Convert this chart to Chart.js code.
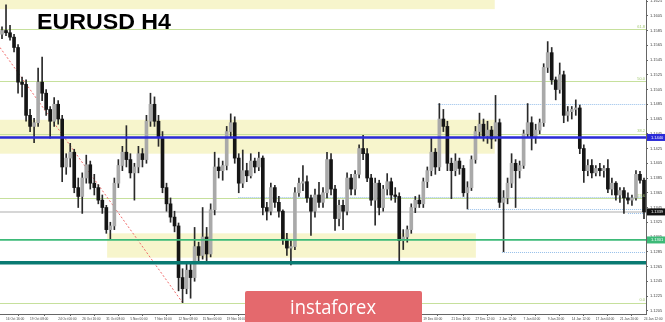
<!DOCTYPE html>
<html><head><meta charset="utf-8">
<script src="https://cdn.jsdelivr.net/npm/chart.js@4.4.1/dist/chart.umd.min.js"></script>
<style>html,body{margin:0;padding:0;background:#fff;}#wrap{width:665px;height:322px;position:relative;}</style>
</head><body><div id="wrap"><canvas id="c" width="665" height="322"></canvas></div>
<script>
// ---- EURUSD H4 candles (prices) ----
const opens = [
1.1580,1.1585,1.1582,1.1576,1.1562,1.1515,1.1512,1.1470,1.1455,1.1460,
1.1515,1.1500,1.1478,1.1462,1.1485,1.1465,1.1400,1.1412,1.1420,1.1372,
1.1360,1.1385,1.1403,1.1378,1.1372,1.1355,1.1345,1.1315,1.1320,1.1378,
1.1402,1.1420,1.1410,1.1392,1.1400,1.1418,1.1410,1.1462,1.1485,1.1462,
1.1440,1.1372,1.1350,1.1332,1.1320,1.1250,1.1235,1.1260,1.1250,1.1292,
1.1280,1.1305,1.1282,1.1342,1.1400,1.1395,1.1402,1.1448,1.1460,1.1412,
1.1378,1.1395,1.1388,1.1408,1.1400,1.1412,1.1345,1.1340,1.1372,1.1352,
1.1340,1.1302,1.1290,1.1292,1.1365,1.1378,1.1380,1.1358,1.1340,1.1362,
1.1352,1.1365,1.1410,1.1370,1.1330,1.1348,1.1340,1.1385,1.1370,1.1390,
1.1425,1.1418,1.1385,1.1355,1.1378,1.1345,1.1370,1.1380,1.1362,1.1360,
1.1300,1.1305,1.1315,1.1345,1.1355,1.1350,1.1380,1.1395,1.1420,1.1400,
1.1465,1.1455,1.1405,1.1395,1.1408,1.1398,1.1365,1.1372,1.1410,1.1448,
1.1458,1.1442,1.1450,1.1438,1.1460,1.1352,1.1358,1.1378,1.1405,1.1395,
1.1402,1.1445,1.1460,1.1440,1.1450,1.1460,1.1535,1.1555,1.1518,1.1505,
1.1525,1.1470,1.1475,1.1478,1.1480,1.1425,1.1395,1.1402,1.1392,1.1398,
1.1395,1.1398,1.1370,1.1378,1.1362,1.1368,1.1358,1.1355,1.1358,1.1390,1.1382];
const highs = [
1.1590,1.1620,1.1592,1.1580,1.1566,1.1522,1.1518,1.1478,1.1466,1.1534,
1.1549,1.1505,1.1482,1.1494,1.1490,1.1470,1.1418,1.1432,1.1424,1.1385,
1.1392,1.1416,1.1408,1.1390,1.1376,1.1362,1.1348,1.1325,1.1385,1.1410,
1.1428,1.1456,1.1418,1.1405,1.1428,1.1425,1.1470,1.1500,1.1495,1.1470,
1.1448,1.1378,1.1358,1.1340,1.1324,1.1262,1.1268,1.1268,1.1318,1.1298,
1.1345,1.1318,1.1350,1.1420,1.1412,1.1408,1.1455,1.1472,1.1468,1.1418,
1.1423,1.1405,1.1418,1.1412,1.1420,1.1415,1.1352,1.1378,1.1375,1.1360,
1.1342,1.1310,1.1300,1.1372,1.1385,1.1402,1.1388,1.1362,1.1370,1.1379,
1.1372,1.1420,1.1418,1.1375,1.1355,1.1355,1.1392,1.1390,1.1395,1.1430,
1.1443,1.1425,1.1390,1.1385,1.1382,1.1375,1.1391,1.1385,1.1372,1.1365,
1.1315,1.1320,1.1350,1.1360,1.1362,1.1385,1.1400,1.1440,1.1425,1.1486,
1.1478,1.1462,1.1412,1.1418,1.1412,1.1402,1.1380,1.1415,1.1455,1.1473,
1.1465,1.1462,1.1455,1.1497,1.1465,1.1368,1.1385,1.1418,1.1410,1.1408,
1.1450,1.1486,1.1468,1.1458,1.1465,1.1540,1.1570,1.1562,1.1522,1.1541,
1.1530,1.1482,1.1482,1.1491,1.1484,1.1430,1.1410,1.1410,1.1402,1.1405,
1.1402,1.1410,1.1385,1.1380,1.1372,1.1372,1.1365,1.1362,1.1395,1.1394,1.1385];
const lows = [
1.1574,1.1578,1.1572,1.1556,1.1500,1.1495,1.1462,1.1448,1.1433,1.1455,
1.1490,1.1470,1.1439,1.1455,1.1458,1.1380,1.1390,1.1400,1.1365,1.1345,
1.1337,1.1378,1.1370,1.1362,1.1350,1.1337,1.1310,1.1302,1.1315,1.1372,
1.1395,1.1400,1.1385,1.1355,1.1392,1.1400,1.1405,1.1455,1.1455,1.1428,
1.1365,1.1340,1.1325,1.1312,1.1232,1.1216,1.1228,1.1222,1.1245,1.1270,
1.1275,1.1273,1.1278,1.1335,1.1385,1.1382,1.1396,1.1440,1.1405,1.1365,
1.1372,1.1380,1.1385,1.1392,1.1395,1.1335,1.1328,1.1335,1.1345,1.1332,
1.1295,1.1280,1.1267,1.1288,1.1360,1.1368,1.1352,1.1307,1.1332,1.1345,
1.1345,1.1358,1.1362,1.1314,1.1320,1.1315,1.1335,1.1362,1.1362,1.1385,
1.1410,1.1380,1.1348,1.1321,1.1335,1.1340,1.1362,1.1355,1.1352,1.1270,
1.1288,1.1298,1.1310,1.1338,1.1345,1.1345,1.1372,1.1388,1.1390,1.1395,
1.1448,1.1395,1.1357,1.1388,1.1390,1.1360,1.1343,1.1368,1.1405,1.1440,
1.1435,1.1432,1.1425,1.1435,1.1345,1.1285,1.1350,1.1372,1.1345,1.1385,
1.1398,1.1440,1.1423,1.1432,1.1445,1.1455,1.1528,1.1512,1.1491,1.1500,
1.1460,1.1462,1.1465,1.1470,1.1418,1.1379,1.1388,1.1385,1.1388,1.1388,
1.1386,1.1365,1.1362,1.1355,1.1352,1.1337,1.1350,1.1348,1.1355,1.1378,1.1330];
const closes = [
1.1585,1.1582,1.1576,1.1562,1.1515,1.1512,1.1470,1.1455,1.1460,1.1515,
1.1500,1.1478,1.1462,1.1485,1.1465,1.1400,1.1412,1.1420,1.1372,1.1360,
1.1385,1.1403,1.1378,1.1372,1.1355,1.1345,1.1315,1.1320,1.1378,1.1402,
1.1420,1.1410,1.1392,1.1400,1.1418,1.1410,1.1462,1.1485,1.1462,1.1440,
1.1372,1.1350,1.1332,1.1320,1.1250,1.1235,1.1260,1.1250,1.1292,1.1280,
1.1305,1.1282,1.1342,1.1400,1.1395,1.1402,1.1448,1.1460,1.1412,1.1378,
1.1395,1.1388,1.1408,1.1400,1.1412,1.1345,1.1340,1.1372,1.1352,1.1340,
1.1302,1.1290,1.1292,1.1365,1.1378,1.1380,1.1358,1.1340,1.1362,1.1352,
1.1365,1.1410,1.1370,1.1330,1.1348,1.1340,1.1385,1.1370,1.1390,1.1425,
1.1418,1.1385,1.1355,1.1378,1.1345,1.1370,1.1380,1.1362,1.1360,1.1300,
1.1305,1.1315,1.1345,1.1355,1.1350,1.1380,1.1395,1.1420,1.1400,1.1465,
1.1455,1.1405,1.1395,1.1408,1.1398,1.1365,1.1372,1.1410,1.1448,1.1458,
1.1442,1.1450,1.1438,1.1460,1.1352,1.1358,1.1378,1.1405,1.1395,1.1402,
1.1445,1.1460,1.1440,1.1450,1.1460,1.1535,1.1555,1.1518,1.1505,1.1525,
1.1470,1.1475,1.1478,1.1480,1.1425,1.1395,1.1402,1.1392,1.1398,1.1395,
1.1398,1.1370,1.1378,1.1362,1.1368,1.1358,1.1355,1.1358,1.1390,1.1382,1.1339];

// ---- axes ----
const priceMin = 1.12006, priceMax = 1.16264;
const priceTicks = [1.1205,1.1225,1.1245,1.1265,1.1285,1.1305,1.1325,1.1345,1.1365,1.1385,1.1405,
                    1.1425,1.1445,1.1465,1.1485,1.1505,1.1525,1.1545,1.1565,1.1585,1.1605,1.1625];
const timeTickBars = [1,7,14,20,26,32,38,44,50,56,62,68,75,81,87,93,99,105,112,118,124,130,136,142,148,154,160];
const timeTickLabels = ['16 Oct 16:00','19 Oct 08:00','24 Oct 00:00','26 Oct 16:00','31 Oct 08:00','5 Nov 00:00',
  '7 Nov 16:00','12 Nov 08:00','15 Nov 00:00','19 Nov 16:00','22 Nov 08:00','27 Nov 00:00','29 Nov 16:00',
  '4 Dec 08:00','7 Dec 00:00','11 Dec 16:00','14 Dec 08:00','19 Dec 00:00','21 Dec 16:00','27 Dec 12:00',
  '2 Jan 12:00','7 Jan 04:00','9 Jan 20:00','14 Jan 12:00','17 Jan 04:00','21 Jan 20:00','24 Jan 12:00'];

// ---- drawn objects (price levels) ----
const fibPrices = [1.1216, 1.1358, 1.1445, 1.1516, 1.1587];
const fibNames  = ['0.0', '23.6', '38.2', '50.0', '61.8'];
const blueLevel = 1.1440, greenLevel = 1.1301, tealLevel = 1.1270;
const bidPrice = closes[closes.length - 1];
const zoneTop   = {from: -0.5, to: 122.8, hi: 1.1627, lo: 1.1614};
const zoneUpper = {from: -0.5, to: 122.8, hi: 1.1464, lo: 1.1418};
const zoneLower = {from: 26.2, to: 118.1, hi: 1.1310, lo: 1.1277};
const dottedLevels = [{price: 1.1486, from: 108.6}, {price: 1.1359, from: 58.9},
                      {price: 1.1343, from: 116.1}, {price: 1.1337, from: 156}, {price: 1.1285, from: 124.6}];
const trendLine = [{bar: -0.5, price: 1.1562}, {bar: 45, price: 1.1216}];

const N = closes.length;
const cats = closes.map((_, i) => i);
const wicks = cats.map(i => [lows[i], highs[i]]);
const bodies = cats.map(i => [Math.min(opens[i], closes[i]), Math.max(opens[i], closes[i])]);
const bodyColors = cats.map(i => closes[i] >= opens[i] ? '#a9a9a9' : '#151515');

const overlay = {
  id: 'overlay',
  beforeDatasetsDraw(chart) {
    const {ctx, chartArea: a, scales: {x, y}} = chart;
    ctx.save();
    ctx.beginPath(); ctx.rect(a.left, a.top, a.right - a.left, a.bottom - a.top); ctx.clip();
    ctx.fillStyle = '#f7f5cc';
    [zoneTop, zoneUpper, zoneLower].forEach(z => {
      const x1 = x.getPixelForValue(z.from), x2 = x.getPixelForValue(z.to);
      const y1 = y.getPixelForValue(z.hi), y2 = y.getPixelForValue(z.lo);
      ctx.fillRect(x1, y1, x2 - x1, y2 - y1);
    });
    // Fibonacci levels
    ctx.strokeStyle = '#c6e09c'; ctx.lineWidth = 1.2;
    fibPrices.forEach(p => {
      const yy = Math.round(y.getPixelForValue(p)) + 0.5;
      ctx.beginPath(); ctx.moveTo(a.left, yy); ctx.lineTo(a.right, yy); ctx.stroke();
    });
    // bid line
    ctx.strokeStyle = '#d6d6d6'; ctx.lineWidth = 2;
    let yb = y.getPixelForValue(bidPrice);
    ctx.beginPath(); ctx.moveTo(a.left, yb); ctx.lineTo(a.right, yb); ctx.stroke();
    // dotted levels
    ctx.strokeStyle = '#96bfea'; ctx.lineWidth = 1; ctx.setLineDash([1, 1]);
    dottedLevels.forEach(d => {
      const yy = Math.round(y.getPixelForValue(d.price)) + 0.5;
      ctx.beginPath(); ctx.moveTo(x.getPixelForValue(d.from), yy); ctx.lineTo(a.right, yy); ctx.stroke();
    });
    // trend line
    ctx.strokeStyle = '#f06a6a'; ctx.setLineDash([2, 2]);
    ctx.beginPath();
    ctx.moveTo(x.getPixelForValue(trendLine[0].bar), y.getPixelForValue(trendLine[0].price));
    ctx.lineTo(x.getPixelForValue(trendLine[1].bar), y.getPixelForValue(trendLine[1].price));
    ctx.stroke();
    ctx.restore();
  },
  afterDatasetsDraw(chart) {
    const {ctx, chartArea: a, scales: {x, y}} = chart;
    ctx.save();
    const hl = (p, w, c) => {
      const yy = y.getPixelForValue(p);
      ctx.strokeStyle = c; ctx.lineWidth = w;
      ctx.beginPath(); ctx.moveTo(a.left, yy); ctx.lineTo(a.right, yy); ctx.stroke();
    };
    hl(blueLevel, 2.5, '#2a2ad8');
    hl(greenLevel, 1.8, '#3dba78');
    hl(tealLevel, 3.5, '#097a72');
    // fib texts
    ctx.fillStyle = '#a3c872'; ctx.font = '4px "Liberation Sans"';
    ctx.textAlign = 'right'; ctx.textBaseline = 'bottom';
    fibPrices.forEach((p, i) => ctx.fillText(fibNames[i], a.right - 1, y.getPixelForValue(p) - 0.5));
    ctx.restore();
  },
  afterDraw(chart) {
    const {ctx, chartArea: a, scales: {x, y}} = chart;
    ctx.save();
    // axis price boxes
    const box = (p, bg, txt) => {
      const yy = y.getPixelForValue(p);
      ctx.fillStyle = bg; ctx.fillRect(a.right + 1, yy - 3.5, 19, 7);
      ctx.fillStyle = '#fff'; ctx.font = '4px "Liberation Sans"';
      ctx.textAlign = 'left'; ctx.textBaseline = 'middle';
      ctx.fillText(txt, a.right + 5, yy + 0.3);
    };
    box(blueLevel, '#2a2ad8', blueLevel.toFixed(4));
    box(greenLevel, '#3dba78', greenLevel.toFixed(4));
    box(bidPrice, '#111111', bidPrice.toFixed(4));
    // title
    ctx.fillStyle = '#000'; ctx.font = 'bold 22px "Liberation Sans"';
    ctx.textAlign = 'left'; ctx.textBaseline = 'alphabetic';
    const tw = ctx.measureText('EURUSD H4').width;
    ctx.save(); ctx.translate(37, 28.5); ctx.scale(134 / tw, 1); ctx.fillText('EURUSD H4', 0, 0); ctx.restore();
    // watermark
    ctx.fillStyle = '#e4696d';
    ctx.beginPath();
    if (ctx.roundRect) ctx.roundRect(245, 291, 177, 40, 2); else ctx.rect(245, 291, 177, 40);
    ctx.fill();
    ctx.fillStyle = '#ffffff'; ctx.font = '20px "Open Sans"';
    ctx.textAlign = 'left';
    const ww = ctx.measureText('instaforex').width;
    ctx.save(); ctx.translate(290, 313.5); ctx.scale(86 / ww, 1); ctx.fillText('instaforex', 0, 0); ctx.restore();
    ctx.restore();
  }
};

new Chart(document.getElementById('c').getContext('2d'), {
  type: 'bar',
  data: {
    labels: cats,
    datasets: [
      {label: 'body', data: bodies, backgroundColor: bodyColors, borderWidth: 0, barThickness: 3, grouped: false, order: 0},
      {label: 'wick', data: wicks, backgroundColor: '#2a2a2a', borderWidth: 0, barThickness: 1, grouped: false, order: 1}
    ]
  },
  options: {
    responsive: false, animation: false, maintainAspectRatio: false,
    layout: {padding: 0},
    plugins: {legend: {display: false}, tooltip: {enabled: false}},
    scales: {
      x: {
        type: 'category', offset: true,
        grid: {display: true, drawOnChartArea: false, drawTicks: true, tickLength: 2, color: '#666'},
        border: {display: true, color: '#666', width: 1},
        ticks: {autoSkip: false, maxRotation: 0, minRotation: 0, align: 'start', padding: 1,
                font: {size: 3.2, family: '"Liberation Sans"'}, color: '#444',
                callback: (v, i) => timeTickLabels[i]},
        afterBuildTicks: ax => { ax.ticks = timeTickBars.map(v => ({value: v})); },
        afterFit: ax => { ax.height = 8; ax.paddingLeft = 0; ax.paddingRight = 0; }
      },
      y: {
        position: 'right', min: priceMin, max: priceMax,
        grid: {display: true, drawOnChartArea: false, drawTicks: true, tickLength: 2, color: '#666'},
        border: {display: true, color: '#666', width: 1},
        ticks: {padding: 2, font: {size: 4, family: '"Liberation Sans"'}, color: '#444',
                callback: v => Number(v).toFixed(4)},
        afterBuildTicks: ax => { ax.ticks = priceTicks.map(v => ({value: v})); },
        afterFit: ax => { ax.width = 19; ax.paddingTop = 0; ax.paddingBottom = 0; }
      }
    }
  },
  plugins: [overlay]
});
</script></body></html>
